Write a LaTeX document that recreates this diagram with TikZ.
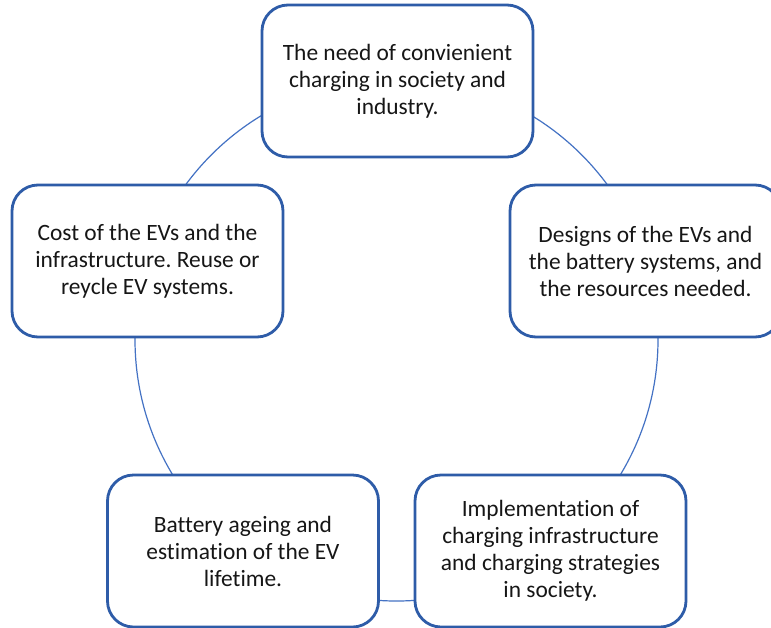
\documentclass[tikz,border=0pt]{standalone}
\usepackage{fontspec}
\setmainfont{Carlito}[Ligatures=NoCommon]
\frenchspacing
\definecolor{colorbox}  {RGB}{ 46, 92,168}
\definecolor{colorring} {RGB}{ 68,114,196}
\definecolor{colortext} {RGB}{ 22, 22, 22}

\begin{document}
\begin{tikzpicture}[
    x=1pt, y=-1pt,
    font={\fontsize{23.4}{27}\selectfont},
    base/.style={text=colortext,align=center,rectangle,inner sep=0pt},
    topic/.style={base,draw=colorbox,line width=2.8pt,fill=white,rounded corners=26pt,minimum width=271pt,minimum height=152pt},
    ring/.style={colorring,line width=1.2pt},
]

    \useasboundingbox (0,0) rectangle (771,627);
    \clip (0,0) rectangle (771,627);
    \fill[white] (0,0) rectangle (771,627);

    \coordinate (hub) at (396.5,339.5);
    \draw[ring] (hub) circle (261.5);

    \node[topic] (need)   at (397.5, 81) {The need of convienient\\charging in society and\\industry.};
    \node[topic] (design) at (645.5,261) {Designs of the EVs and\\the battery systems, and\\the resources needed.};
    \node[topic] (charge) at (550.5,551) {Implementation of\\charging infrastructure\\and charging strategies\\in society.};
    \node[topic] (ageing) at (243.0,551) {Battery ageing and\\estimation of the EV\\lifetime.};
    \node[topic] (cost)   at (147.5,261) {Cost of the EVs and the\\infrastructure. Reuse or\\reycle EV systems.};

\end{tikzpicture}
\end{document}
